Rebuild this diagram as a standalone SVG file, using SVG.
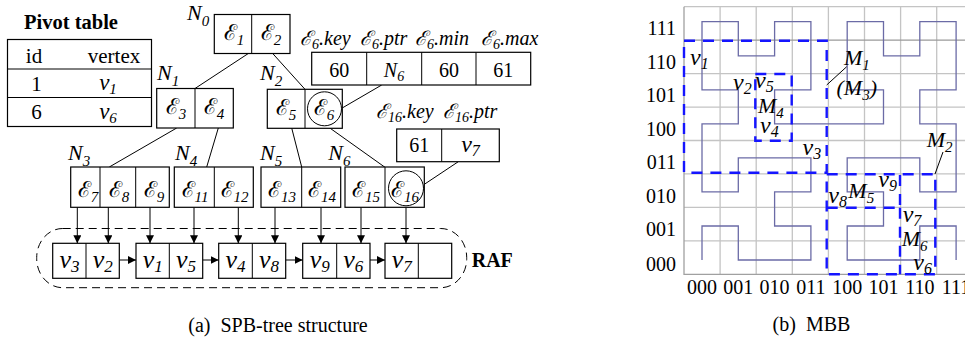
<svg xmlns="http://www.w3.org/2000/svg" width="965" height="342" viewBox="0 0 965 342">
<style>
.box{fill:#fff;stroke:#000;stroke-width:1.2}
.ln{stroke:#000;stroke-width:1;fill:none}
.circ{fill:none;stroke:#000;stroke-width:1}
.grid{stroke:#c4c4c4;stroke-width:1.3;fill:none}
.curve{stroke:#6b6ba6;stroke-width:1.3;fill:none}
.mbb{stroke:#1515ff;stroke-width:2.4;fill:none;stroke-dasharray:11 8}
</style>
<defs>
<marker id="ah" markerWidth="8" markerHeight="8" refX="8" refY="4" orient="auto" markerUnits="userSpaceOnUse">
<path d="M0,0 L8,4 L0,8 z" fill="#000"/>
</marker>
</defs>

<g id="pivot">
<text x="24" y="29" font-family="Liberation Serif" font-weight="bold" font-size="20.5">Pivot table</text>
<rect x="7.5" y="39.5" width="144" height="87" class="box"/>
<line x1="7.5" y1="69" x2="151.5" y2="69" class="ln"/>
<line x1="7.5" y1="97.5" x2="151.5" y2="97.5" class="ln"/>
<text x="34" y="63" font-family="Liberation Serif" text-anchor="middle" font-size="21">id</text>
<text x="114" y="63" font-family="Liberation Serif" text-anchor="middle" font-size="21">vertex</text>
<text x="36.5" y="90.5" font-family="Liberation Serif" text-anchor="middle" font-size="21">1</text>
<text x="36.5" y="119" font-family="Liberation Serif" text-anchor="middle" font-size="21">6</text>
<text x="108" y="90" font-family="Liberation Serif" font-style="italic" text-anchor="middle" font-size="23">v<tspan dy="4" font-size="15">1</tspan></text>
<text x="108" y="119" font-family="Liberation Serif" font-style="italic" text-anchor="middle" font-size="23">v<tspan dy="4" font-size="15">6</tspan></text>
</g>

<g id="connectors">
<line x1="248.3" y1="53.5" x2="195" y2="88.5" class="ln"/>
<line x1="272.7" y1="53.5" x2="305" y2="89.3" class="ln"/>
<line x1="176.7" y1="128" x2="109.3" y2="167" class="ln"/>
<line x1="218.3" y1="128" x2="206.7" y2="167" class="ln"/>
<line x1="291.7" y1="128" x2="301.7" y2="167" class="ln"/>
<line x1="327" y1="126" x2="385" y2="167.3" class="ln"/>
<line x1="341.7" y1="108.3" x2="381.7" y2="85" class="ln"/>
<line x1="423.3" y1="185" x2="458.3" y2="161.7" class="ln"/>
<line x1="77.3" y1="207.3" x2="77.3" y2="243.3" class="ln" marker-end="url(#ah)"/>
<line x1="108.3" y1="207.3" x2="108.3" y2="243.3" class="ln" marker-end="url(#ah)"/>
<line x1="150" y1="207.3" x2="150" y2="243.3" class="ln" marker-end="url(#ah)"/>
<line x1="194" y1="207.3" x2="194" y2="243.3" class="ln" marker-end="url(#ah)"/>
<line x1="238.3" y1="207.3" x2="238.3" y2="243.3" class="ln" marker-end="url(#ah)"/>
<line x1="275" y1="207.3" x2="275" y2="243.3" class="ln" marker-end="url(#ah)"/>
<line x1="321" y1="207.3" x2="321" y2="243.3" class="ln" marker-end="url(#ah)"/>
<line x1="361" y1="207.3" x2="361" y2="243.3" class="ln" marker-end="url(#ah)"/>
<line x1="406" y1="207.3" x2="406" y2="243.3" class="ln" marker-end="url(#ah)"/>
<line x1="119.3" y1="260" x2="136" y2="260" class="ln" marker-end="url(#ah)"/>
<line x1="202.7" y1="260" x2="218.7" y2="260" class="ln" marker-end="url(#ah)"/>
<line x1="285.7" y1="260" x2="302.7" y2="260" class="ln" marker-end="url(#ah)"/>
<line x1="370" y1="260" x2="385" y2="260" class="ln" marker-end="url(#ah)"/>
</g>

<g id="N0">
<text x="187" y="20" font-family="Liberation Serif" font-style="italic" font-size="22">N<tspan dy="6" font-size="15">0</tspan></text>
<rect x="214.3" y="14.5" width="75.7" height="39" class="box"/>
<line x1="251.7" y1="14.5" x2="251.7" y2="53.5" class="ln"/>
<text x="234" y="40" font-family="Liberation Serif" text-anchor="middle" font-size="22">ℰ<tspan dy="5" font-size="15" font-style="italic">1</tspan></text>
<text x="271" y="40" font-family="Liberation Serif" text-anchor="middle" font-size="22">ℰ<tspan dy="5" font-size="15" font-style="italic">2</tspan></text>
</g>

<g id="N1">
<text x="157" y="80" font-family="Liberation Serif" font-style="italic" font-size="22">N<tspan dy="6" font-size="15">1</tspan></text>
<rect x="156.7" y="88.5" width="76.6" height="39.5" class="box"/>
<line x1="195" y1="88.5" x2="195" y2="128" class="ln"/>
<text x="176" y="114" font-family="Liberation Serif" text-anchor="middle" font-size="22">ℰ<tspan dy="5" font-size="15" font-style="italic">3</tspan></text>
<text x="214" y="114" font-family="Liberation Serif" text-anchor="middle" font-size="22">ℰ<tspan dy="5" font-size="15" font-style="italic">4</tspan></text>
</g>

<g id="N2">
<text x="260" y="80" font-family="Liberation Serif" font-style="italic" font-size="22">N<tspan dy="6" font-size="15">2</tspan></text>
<rect x="267.3" y="89.3" width="75" height="39" class="box"/>
<line x1="305" y1="89.3" x2="305" y2="128.3" class="ln"/>
<text x="286" y="115" font-family="Liberation Serif" text-anchor="middle" font-size="22">ℰ<tspan dy="5" font-size="15" font-style="italic">5</tspan></text>
<circle cx="324.5" cy="108.8" r="17" class="circ"/>
<text x="324" y="115" font-family="Liberation Serif" text-anchor="middle" font-size="22">ℰ<tspan dy="5" font-size="15" font-style="italic">6</tspan></text>
</g>

<g id="E6rec">
<text x="300" y="45" font-family="Liberation Serif" font-style="italic" font-size="20">ℰ<tspan dy="4" font-size="14">6</tspan><tspan dy="-4">.key</tspan></text>
<text x="360" y="45" font-family="Liberation Serif" font-style="italic" font-size="20">ℰ<tspan dy="4" font-size="14">6</tspan><tspan dy="-4">.ptr</tspan></text>
<text x="415" y="45" font-family="Liberation Serif" font-style="italic" font-size="20">ℰ<tspan dy="4" font-size="14">6</tspan><tspan dy="-4">.min</tspan></text>
<text x="481" y="45" font-family="Liberation Serif" font-style="italic" font-size="20">ℰ<tspan dy="4" font-size="14">6</tspan><tspan dy="-4">.max</tspan></text>
<rect x="311.7" y="52.3" width="219" height="32.7" class="box"/>
<line x1="366.7" y1="52.3" x2="366.7" y2="85" class="ln"/>
<line x1="421.7" y1="52.3" x2="421.7" y2="85" class="ln"/>
<line x1="476" y1="52.3" x2="476" y2="85" class="ln"/>
<text x="339.2" y="76.7" font-family="Liberation Serif" text-anchor="middle" font-size="20">60</text>
<text x="394" y="76.7" font-family="Liberation Serif" font-style="italic" text-anchor="middle" font-size="20">N<tspan dy="4" font-size="14">6</tspan></text>
<text x="449" y="76.7" font-family="Liberation Serif" text-anchor="middle" font-size="20">60</text>
<text x="503.3" y="76.7" font-family="Liberation Serif" text-anchor="middle" font-size="20">61</text>
</g>

<g id="E16rec">
<text x="376" y="118.3" font-family="Liberation Serif" font-style="italic" font-size="20">ℰ<tspan dy="4" font-size="14">16</tspan><tspan dy="-4">.key</tspan></text>
<text x="443" y="118.3" font-family="Liberation Serif" font-style="italic" font-size="20">ℰ<tspan dy="4" font-size="14">16</tspan><tspan dy="-4">.ptr</tspan></text>
<rect x="396.7" y="129" width="102.6" height="32.7" class="box"/>
<line x1="441.7" y1="129" x2="441.7" y2="161.7" class="ln"/>
<text x="419.2" y="151.7" font-family="Liberation Serif" text-anchor="middle" font-size="20">61</text>
<text x="470.5" y="151.7" font-family="Liberation Serif" font-style="italic" text-anchor="middle" font-size="24">v<tspan dy="4" font-size="16">7</tspan></text>
</g>

<g id="N3">
<text x="68" y="160" font-family="Liberation Serif" font-style="italic" font-size="22">N<tspan dy="6" font-size="15">3</tspan></text>
<rect x="70.7" y="167" width="98.6" height="40.3" class="box"/>
<line x1="100" y1="167" x2="100" y2="207.3" class="ln"/>
<line x1="135.7" y1="167" x2="135.7" y2="207.3" class="ln"/>
<text x="88" y="196.7" font-family="Liberation Serif" text-anchor="middle" font-size="22">ℰ<tspan dy="5" font-size="15" font-style="italic">7</tspan></text>
<text x="119" y="196.7" font-family="Liberation Serif" text-anchor="middle" font-size="22">ℰ<tspan dy="5" font-size="15" font-style="italic">8</tspan></text>
<text x="154" y="196.7" font-family="Liberation Serif" text-anchor="middle" font-size="22">ℰ<tspan dy="5" font-size="15" font-style="italic">9</tspan></text>
</g>

<g id="N4">
<text x="175" y="160" font-family="Liberation Serif" font-style="italic" font-size="22">N<tspan dy="6" font-size="15">4</tspan></text>
<rect x="174.3" y="167" width="79" height="40.3" class="box"/>
<line x1="214.3" y1="167" x2="214.3" y2="207.3" class="ln"/>
<text x="195" y="196.7" font-family="Liberation Serif" text-anchor="middle" font-size="22">ℰ<tspan dy="5" font-size="15" font-style="italic">11</tspan></text>
<text x="234.5" y="196.7" font-family="Liberation Serif" text-anchor="middle" font-size="22">ℰ<tspan dy="5" font-size="15" font-style="italic">12</tspan></text>
</g>

<g id="N5">
<text x="260" y="160" font-family="Liberation Serif" font-style="italic" font-size="22">N<tspan dy="6" font-size="15">5</tspan></text>
<rect x="261" y="167" width="79.7" height="40.3" class="box"/>
<line x1="301.7" y1="167" x2="301.7" y2="207.3" class="ln"/>
<text x="282" y="196.7" font-family="Liberation Serif" text-anchor="middle" font-size="22">ℰ<tspan dy="5" font-size="15" font-style="italic">13</tspan></text>
<text x="322" y="196.7" font-family="Liberation Serif" text-anchor="middle" font-size="22">ℰ<tspan dy="5" font-size="15" font-style="italic">14</tspan></text>
</g>

<g id="N6">
<text x="328.3" y="160" font-family="Liberation Serif" font-style="italic" font-size="22">N<tspan dy="6" font-size="15">6</tspan></text>
<rect x="345" y="167" width="79.3" height="40.3" class="box"/>
<line x1="385" y1="167" x2="385" y2="207.3" class="ln"/>
<text x="366" y="196.7" font-family="Liberation Serif" text-anchor="middle" font-size="22">ℰ<tspan dy="5" font-size="15" font-style="italic">15</tspan></text>
<circle cx="406" cy="188.3" r="17.5" class="circ"/>
<text x="405" y="196.7" font-family="Liberation Serif" text-anchor="middle" font-size="22">ℰ<tspan dy="5" font-size="15" font-style="italic">16</tspan></text>
</g>

<g id="RAF">
<rect x="36.7" y="228.5" width="430" height="59.2" rx="26" ry="29" fill="none" stroke="#000" stroke-width="1" stroke-dasharray="8 5"/>
<rect x="52.7" y="243.3" width="66.6" height="35" class="box"/>
<line x1="86" y1="243.3" x2="86" y2="278.3" class="ln"/>
<rect x="136" y="243.3" width="66.7" height="35" class="box"/>
<line x1="169.3" y1="243.3" x2="169.3" y2="278.3" class="ln"/>
<rect x="218.7" y="243.3" width="67" height="35" class="box"/>
<line x1="252.3" y1="243.3" x2="252.3" y2="278.3" class="ln"/>
<rect x="302.7" y="243.3" width="67.3" height="35" class="box"/>
<line x1="336.7" y1="243.3" x2="336.7" y2="278.3" class="ln"/>
<rect x="385" y="243.3" width="66.7" height="35" class="box"/>
<line x1="418.3" y1="243.3" x2="418.3" y2="278.3" class="ln"/>
<text x="69.4" y="268.3" font-family="Liberation Serif" font-style="italic" text-anchor="middle" font-size="26">v<tspan dy="4" font-size="17">3</tspan></text>
<text x="102.7" y="268.3" font-family="Liberation Serif" font-style="italic" text-anchor="middle" font-size="26">v<tspan dy="4" font-size="17">2</tspan></text>
<text x="152.7" y="268.3" font-family="Liberation Serif" font-style="italic" text-anchor="middle" font-size="26">v<tspan dy="4" font-size="17">1</tspan></text>
<text x="186" y="268.3" font-family="Liberation Serif" font-style="italic" text-anchor="middle" font-size="26">v<tspan dy="4" font-size="17">5</tspan></text>
<text x="235.5" y="268.3" font-family="Liberation Serif" font-style="italic" text-anchor="middle" font-size="26">v<tspan dy="4" font-size="17">4</tspan></text>
<text x="269" y="268.3" font-family="Liberation Serif" font-style="italic" text-anchor="middle" font-size="26">v<tspan dy="4" font-size="17">8</tspan></text>
<text x="319.7" y="268.3" font-family="Liberation Serif" font-style="italic" text-anchor="middle" font-size="26">v<tspan dy="4" font-size="17">9</tspan></text>
<text x="353.3" y="268.3" font-family="Liberation Serif" font-style="italic" text-anchor="middle" font-size="26">v<tspan dy="4" font-size="17">6</tspan></text>
<text x="401.7" y="268.3" font-family="Liberation Serif" font-style="italic" text-anchor="middle" font-size="26">v<tspan dy="4" font-size="17">7</tspan></text>
<text x="471.7" y="266.7" font-family="Liberation Serif" font-weight="bold" font-size="20">RAF</text>
</g>

<text x="278" y="332" font-family="Liberation Serif" text-anchor="middle" font-size="20" xml:space="preserve">(a)  SPB-tree structure</text>

<g id="mbb-grid">
<path class="grid" d="M684,6.7H965M684,73.6H965M684,107.05H965M684,140.5H965M684,173.95H965M684,207.4H965M684,240.85H965M720.1,6.7V274.3M756.2,6.7V274.3M792.3,6.7V274.3M828.4,6.7V274.3M864.5,6.7V274.3M900.6,6.7V274.3M936.7,6.7V274.3"/>
<path d="M684,40.15H965" fill="none" stroke="#9a9a9a" stroke-width="1.3"/>
<path d="M684,6.7V274.3H965" fill="none" stroke="#a0a0a0" stroke-width="1.3"/>
<polyline class="curve" points="702,260 702,226 738.3,226 738.3,260 774.6,260 810.9,260 810.9,226 774.6,226 774.6,191.9 810.9,191.9 810.9,157.9 774.6,157.9 738.3,157.9 738.3,191.9 702,191.9 702,157.9 702,123.8 738.3,123.8 738.3,89.8 702,89.8 702,55.8 702,21.7 738.3,21.7 738.3,55.8 774.6,55.8 774.6,21.7 810.9,21.7 810.9,55.8 810.9,89.8 774.6,89.8 774.6,123.8 810.9,123.8 847.2,123.8 883.5,123.8 883.5,89.8 847.2,89.8 847.2,55.8 847.2,21.7 883.5,21.7 883.5,55.8 919.8,55.8 919.8,21.7 956.1,21.7 956.1,55.8 956.1,89.8 919.8,89.8 919.8,123.8 956.1,123.8 956.1,157.9 956.1,191.9 919.8,191.9 919.8,157.9 883.5,157.9 847.2,157.9 847.2,191.9 883.5,191.9 883.5,226 847.2,226 847.2,260 883.5,260 919.8,260 919.8,226 956.1,226 956.1,260"/>
</g>
<g id="mbb-axes">
<text x="676" y="35" font-family="Liberation Serif" font-size="20" text-anchor="end">111</text>
<text x="676" y="68.5" font-family="Liberation Serif" font-size="20" text-anchor="end">110</text>
<text x="676" y="102" font-family="Liberation Serif" font-size="20" text-anchor="end">101</text>
<text x="676" y="135.5" font-family="Liberation Serif" font-size="20" text-anchor="end">100</text>
<text x="676" y="169" font-family="Liberation Serif" font-size="20" text-anchor="end">011</text>
<text x="676" y="202.5" font-family="Liberation Serif" font-size="20" text-anchor="end">010</text>
<text x="676" y="236" font-family="Liberation Serif" font-size="20" text-anchor="end">001</text>
<text x="676" y="270.5" font-family="Liberation Serif" font-size="20" text-anchor="end">000</text>
<text x="702" y="293.5" font-family="Liberation Serif" font-size="20" text-anchor="middle">000</text>
<text x="738.3" y="293.5" font-family="Liberation Serif" font-size="20" text-anchor="middle">001</text>
<text x="774.6" y="293.5" font-family="Liberation Serif" font-size="20" text-anchor="middle">010</text>
<text x="810.9" y="293.5" font-family="Liberation Serif" font-size="20" text-anchor="middle">011</text>
<text x="847.2" y="293.5" font-family="Liberation Serif" font-size="20" text-anchor="middle">100</text>
<text x="883.5" y="293.5" font-family="Liberation Serif" font-size="20" text-anchor="middle">101</text>
<text x="919.8" y="293.5" font-family="Liberation Serif" font-size="20" text-anchor="middle">110</text>
<text x="956.1" y="293.5" font-family="Liberation Serif" font-size="20" text-anchor="middle">111</text>
</g>
<g id="M1">
<rect x="684" y="40.7" width="142.7" height="132" class="mbb"/>
<text x="844" y="65" font-family="Liberation Serif" font-style="italic" font-size="22">M<tspan dy="5" font-size="15">1</tspan></text>
<text x="836.5" y="95" font-family="Liberation Serif" font-style="italic" font-size="22">(M<tspan dy="5" font-size="15">3</tspan><tspan dy="-5">)</tspan></text>
<line x1="826.7" y1="85" x2="846.7" y2="66.7" class="ln"/>
<text x="690" y="65" font-family="Liberation Serif" font-style="italic" font-size="24">v<tspan dy="4" font-size="16">1</tspan></text>
<text x="733" y="90" font-family="Liberation Serif" font-style="italic" font-size="24">v<tspan dy="4" font-size="16">2</tspan></text>
<text x="802.5" y="155" font-family="Liberation Serif" font-style="italic" font-size="24">v<tspan dy="4" font-size="16">3</tspan></text>
</g>
<g id="M4">
<rect x="755.3" y="74" width="36.4" height="66.7" class="mbb"/>
<text x="755" y="88.3" font-family="Liberation Serif" font-style="italic" font-size="24">v<tspan dy="4" font-size="16">5</tspan></text>
<text x="758" y="113.3" font-family="Liberation Serif" font-style="italic" font-size="22">M<tspan dy="5" font-size="15">4</tspan></text>
<text x="760" y="133.3" font-family="Liberation Serif" font-style="italic" font-size="24">v<tspan dy="4" font-size="16">4</tspan></text>
</g>
<g id="M2">
<rect x="826.7" y="174.3" width="108.6" height="100" class="mbb"/>
<text x="926.7" y="146.7" font-family="Liberation Serif" font-style="italic" font-size="22">M<tspan dy="5" font-size="15">2</tspan></text>
<line x1="935" y1="174" x2="943" y2="152" class="ln"/>
</g>
<g id="M5">
<path d="M826.7,207.7H900V174.3" class="mbb"/>
<text x="828.3" y="203.3" font-family="Liberation Serif" font-style="italic" font-size="24">v<tspan dy="4" font-size="16">8</tspan></text>
<text x="848.3" y="198.3" font-family="Liberation Serif" font-style="italic" font-size="22">M<tspan dy="5" font-size="15">5</tspan></text>
<text x="878.3" y="186.7" font-family="Liberation Serif" font-style="italic" font-size="24">v<tspan dy="4" font-size="16">9</tspan></text>
</g>
<g id="M6">
<path d="M900,207.7V274.3" class="mbb"/>
<text x="902.7" y="221.7" font-family="Liberation Serif" font-style="italic" font-size="24">v<tspan dy="4" font-size="16">7</tspan></text>
<text x="901.7" y="246" font-family="Liberation Serif" font-style="italic" font-size="22">M<tspan dy="5" font-size="15">6</tspan></text>
<text x="913.3" y="270" font-family="Liberation Serif" font-style="italic" font-size="24">v<tspan dy="4" font-size="16">6</tspan></text>
</g>
<text x="811.5" y="331" font-family="Liberation Serif" text-anchor="middle" font-size="20" xml:space="preserve">(b)  MBB</text>
</svg>
